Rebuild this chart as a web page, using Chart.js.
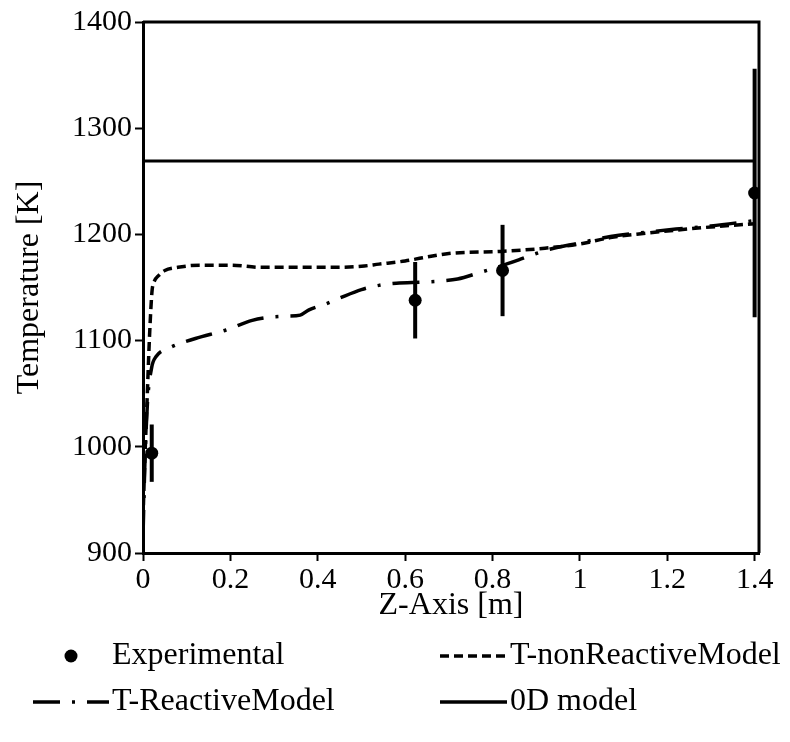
<!DOCTYPE html>
<html>
<head>
<meta charset="utf-8">
<script src="https://cdn.jsdelivr.net/npm/chart.js@4.4.1/dist/chart.umd.min.js"></script>
<style>
  html, body { margin: 0; padding: 0; background: #fff; }
  #wrap { width: 790px; height: 742px; }
</style>
</head>
<body>
<div id="wrap"><canvas id="chart" width="790" height="742"></canvas></div>
<script>
// measured temperatures along the reactor axis
const Z_EXP = [0.02, 0.623, 0.823, 1.4];
const T_EXP = [994, 1138, 1166, 1239];
const T_EXP_ERR = [27, 36, 43, 117];

const Z_NONREACT = [0, 0.004, 0.009, 0.014, 0.018, 0.021, 0.026, 0.035, 0.05, 0.08, 0.13, 0.2, 0.27, 0.35, 0.43, 0.5, 0.54, 0.6, 0.64, 0.7, 0.82, 0.92, 1.0, 1.07, 1.15, 1.22, 1.3, 1.4];
const T_NONREACT = [932, 985, 1040, 1095, 1130, 1148, 1156, 1161, 1166, 1169, 1171, 1171, 1169, 1169, 1169, 1170, 1172, 1175, 1178, 1182, 1184, 1187, 1191, 1197, 1201, 1204, 1207, 1210];

const Z_REACT = [0, 0.004, 0.01, 0.02, 0.03, 0.06, 0.12, 0.19, 0.25, 0.29, 0.33, 0.36, 0.38, 0.415, 0.45, 0.5, 0.54, 0.58, 0.64, 0.68, 0.72, 0.77, 0.81, 0.86, 0.9, 0.94, 1.0, 1.07, 1.15, 1.22, 1.3, 1.4];
const T_REACT = [915, 980, 1040, 1075, 1085, 1093, 1102, 1110, 1119, 1122, 1123, 1124, 1129, 1134, 1140, 1148, 1152, 1154, 1155, 1156, 1158, 1164, 1169, 1176, 1182, 1187, 1192, 1198, 1202, 1205, 1208, 1213];

const Z_0D = [0, 1.4];
const T_0D = [1269, 1269];

const X_TICKS = [0, 0.2, 0.4, 0.6, 0.8, 1, 1.2, 1.4];
const Y_TICKS = [900, 1000, 1100, 1200, 1300, 1400];

const FONT = 'Liberation Serif, Times New Roman, serif';
const toXY = (xs, ys) => xs.map((x, i) => ({ x, y: ys[i] }));

const DASH_NONREACT = [9, 5];
const DASH_REACT = [27, 12, 3, 12];

// vertical error bars for the measured points
const errorBars = {
    id: 'errorBars',
    afterDatasetsDraw(chart) {
        const { ctx, scales: { x, y } } = chart;
        ctx.save();
        ctx.strokeStyle = '#000';
        ctx.lineWidth = 4;
        Z_EXP.forEach((z, i) => {
            const px = x.getPixelForValue(z);
            ctx.beginPath();
            ctx.moveTo(px, y.getPixelForValue(T_EXP[i] - T_EXP_ERR[i]));
            ctx.lineTo(px, y.getPixelForValue(T_EXP[i] + T_EXP_ERR[i]));
            ctx.stroke();
        });
        ctx.restore();
    }
};

// top and right edges of the plot box
const plotBox = {
    id: 'plotBox',
    afterDraw(chart) {
        const { ctx, chartArea: a } = chart;
        ctx.save();
        ctx.strokeStyle = '#000';
        ctx.lineWidth = 3;
        ctx.beginPath();
        ctx.moveTo(a.left, a.top);
        ctx.lineTo(a.right, a.top);
        ctx.lineTo(a.right, a.bottom);
        ctx.stroke();
        ctx.restore();
    }
};

// two-column legend under the axis title
const bottomLegend = {
    id: 'bottomLegend',
    afterDraw(chart) {
        const ctx = chart.ctx;
        const rows = [
            { x: 33, y: 656, w: 76, label: 'Experimental', tx: 112, marker: true },
            { x: 440, y: 656, w: 67, label: 'T-nonReactiveModel', tx: 510, dash: DASH_NONREACT },
            { x: 33, y: 702, w: 76, label: 'T-ReactiveModel', tx: 112, dash: DASH_REACT },
            { x: 440, y: 702, w: 67, label: '0D model', tx: 510, dash: [] }
        ];
        ctx.save();
        ctx.fillStyle = '#000';
        ctx.strokeStyle = '#000';
        ctx.font = '32px ' + FONT;
        ctx.textBaseline = 'middle';
        rows.forEach(r => {
            if (r.marker) {
                ctx.beginPath();
                ctx.arc(r.x + r.w / 2, r.y, 6.5, 0, Math.PI * 2);
                ctx.fill();
            } else {
                ctx.lineWidth = 3.5;
                ctx.setLineDash(r.dash);
                ctx.beginPath();
                ctx.moveTo(r.x, r.y);
                ctx.lineTo(r.x + r.w, r.y);
                ctx.stroke();
                ctx.setLineDash([]);
            }
            ctx.fillText(r.label, r.tx, r.y);
        });
        ctx.restore();
    }
};

new Chart(document.getElementById('chart'), {
    type: 'line',
    data: {
        datasets: [
            {
                label: 'T-nonReactiveModel',
                data: toXY(Z_NONREACT, T_NONREACT),
                borderColor: '#000', borderWidth: 3.5, borderDash: DASH_NONREACT,
                pointRadius: 0, cubicInterpolationMode: 'monotone', fill: false
            },
            {
                label: 'T-ReactiveModel',
                data: toXY(Z_REACT, T_REACT),
                borderColor: '#000', borderWidth: 3.5, borderDash: DASH_REACT,
                pointRadius: 0, cubicInterpolationMode: 'monotone', fill: false
            },
            {
                label: '0D model',
                data: toXY(Z_0D, T_0D),
                borderColor: '#000', borderWidth: 3, pointRadius: 0, fill: false
            },
            {
                label: 'Experimental',
                data: toXY(Z_EXP, T_EXP),
                showLine: false, pointRadius: 6.5, pointStyle: 'circle',
                pointBackgroundColor: '#000', pointBorderColor: '#000', pointBorderWidth: 0
            }
        ]
    },
    options: {
        responsive: false,
        animation: false,
        layout: { padding: { top: 22, right: 31, bottom: 114, left: 0 } },
        plugins: { legend: { display: false }, tooltip: { enabled: false } },
        scales: {
            x: {
                type: 'linear', min: 0, max: 1.41,
                afterFit: s => { s.height = 75; },
                afterBuildTicks: s => { s.ticks = X_TICKS.map(v => ({ value: v })); },
                ticks: { color: '#000', font: { family: FONT, size: 30 }, padding: 1, callback: v => String(+v.toFixed(2)) },
                grid: { drawOnChartArea: false, drawTicks: true, tickLength: 8, tickWidth: 2, tickColor: '#000' },
                border: { display: true, color: '#000', width: 3 },
                title: { display: true, text: 'Z-Axis [m]', color: '#000', font: { family: FONT, size: 32 }, padding: { top: 0, bottom: 3 } }
            },
            y: {
                min: 900, max: 1400,
                afterFit: s => { s.width = 143; },
                afterBuildTicks: s => { s.ticks = Y_TICKS.map(v => ({ value: v })); },
                ticks: { color: '#000', font: { family: FONT, size: 30 }, padding: 3, callback: v => String(v) },
                grid: { drawOnChartArea: false, drawTicks: true, tickLength: 8, tickWidth: 2, tickColor: '#000' },
                border: { display: true, color: '#000', width: 3 },
                title: { display: true, text: 'Temperature [K]', color: '#000', font: { family: FONT, size: 32 }, padding: { top: 10, bottom: 0 } }
            }
        }
    },
    plugins: [errorBars, plotBox, bottomLegend]
});
</script>
</body>
</html>
